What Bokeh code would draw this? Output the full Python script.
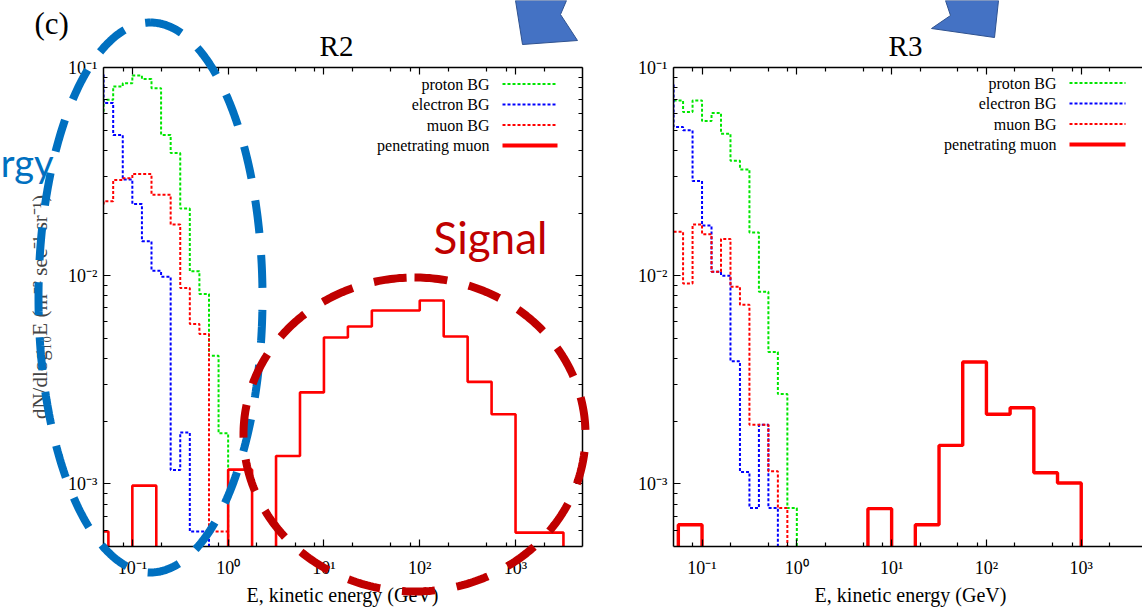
import numpy as np
from bokeh.plotting import figure
from bokeh.models import (Range1d, FixedTicker, LogAxis, CustomJSTickFormatter)
from bokeh.layouts import row, column
from bokeh.core.properties import value
from bokeh.embed import file_html
from bokeh.resources import INLINE

# ---------------- data ----------------
# background histograms: lower bin edges in log10(E/GeV), bin width 0.1 decade
bg_bin_lo_log = [-1.4, -1.3, -1.2, -1.1, -1.0, -0.9, -0.8, -0.7, -0.6, -0.5,
                 -0.4, -0.3, -0.2, -0.1, 0.0]
bg_bin_width = 0.1
# penetrating muon histograms: lower bin edges, bin width 0.25 decade
mu_bin_lo_log = [-1.5, -1.25, -1.0, -0.75, -0.5, -0.25, 0.0, 0.25, 0.5, 0.75,
                 1.0, 1.25, 1.5, 1.75, 2.0, 2.25, 2.5, 2.75, 3.0, 3.25, 3.5]
mu_bin_width = 0.25

r2_proton = [0.061, 0.070, 0.081, 0.084, 0.0916, 0.088, 0.0796, 0.0474, 0.0388,
             0.021, 0.0105, 0.00817, 0.00412, 0.00175, 0.0]
r2_electron = [0.093, 0.0676, 0.0474, 0.029, 0.0221, 0.01463, 0.01057, 0.00989,
               0.001164, 0.001766, 0.00059, 0.00059, 0.0, 0.0, 0.0]
r2_muon_bg = [0.0219, 0.0228, 0.0288, 0.0294, 0.0308, 0.0308, 0.0245, 0.0245,
              0.0176, 0.00873, 0.00586, 0.00525, 0.00059, 0.00059, 0.0]
r2_pen_muon = [0.00059, 0.0, 0.00098, 0.0, 0.0, 0.0, 0.00117, 0.0, 0.00136,
               0.00275, 0.00505, 0.0057, 0.0068, 0.0068, 0.0076, 0.0051,
               0.00309, 0.00216, 0.000583, 0.000583, 0.0]

r3_proton = [None, 0.0695, 0.0611, 0.0695, 0.0553, 0.0604, 0.0481, 0.0356,
             0.0324, 0.0161, 0.00838, 0.0043, 0.0027, 0.000765, 0.0]
r3_electron = [0.0834, 0.0518, 0.0499, 0.0285, 0.0174, 0.01045, 0.0100, 0.00388,
               0.00114, 0.000765, 0.00192, 0.000765, 0.0, 0.0, 0.0]
r3_muon_bg = [None, 0.01626, 0.00918, 0.0176, 0.0158, 0.01045, 0.0150, 0.00885,
              0.00724, 0.00192, 0.00192, 0.00115, 0.000765, 0.0, 0.0]
r3_pen_muon = [0.0, 0.000636, 0.0, 0.0, 0.0, 0.0, 0.0, 0.0, 0.0, 0.00076,
               0.0, 0.000636, 0.00153, 0.00385, 0.00216, 0.00232, 0.00113,
               0.00101, 0.0, 0.0, 0.0]

series_names = ["proton BG", "electron BG", "muon BG", "penetrating muon"]
panel_titles = ["R2", "R3"]
x_title = "E, kinetic energy (GeV)"
y_title = "dN/dlog\u2081\u2080E (m\u207b\u00b2 sec\u207b\u00b9 sr\u207b\u00b9)"
x_major_ticks = [0.1, 1, 10, 100, 1000]
x_minor_ticks = [0.08, 0.2, 0.5, 0.8, 2, 5, 8, 20, 50, 80, 200, 500, 800, 2000]
y_major_ticks = [1e-3, 1e-2, 1e-1]
y_minor_ticks = [6e-4, 7e-4, 8e-4, 9e-4, 2e-3, 3e-3, 4e-3, 5e-3, 6e-3, 7e-3,
                 8e-3, 9e-3, 2e-2, 3e-2, 4e-2, 5e-2, 6e-2, 7e-2, 8e-2, 9e-2]

# ---------------- styling ----------------
SERIF = "Liberation Serif"
GREEN, BLUE, RED = "#00e600", "#0000ff", "#ff0000"
BG_STYLES = [(GREEN, "3 2"), (BLUE, "3 2"), (RED, "3 2")]
FLOOR = 1e-7
W, H = 1142, 608

sup_fmt = CustomJSTickFormatter(code="""
const e = Math.round(Math.log10(tick));
const m = {'-':'\u207b','0':'\u2070','1':'\u00b9','2':'\u00b2','3':'\u00b3',
           '4':'\u2074','5':'\u2075','6':'\u2076','7':'\u2077','8':'\u2078','9':'\u2079'};
return '10' + String(e).split('').map(c => m[c]).join('');
""")


def steps(lo_log, width, vals):
    pairs = [(l, v) for l, v in zip(lo_log, vals) if v is not None]
    xs = [10 ** l for l, _ in pairs] + [10 ** (pairs[-1][0] + width)]
    ys = [max(v, FLOOR) for _, v in pairs]
    ys = ys + [ys[-1]]
    return xs, ys


def style_axis(ax, labels=True):
    ax.axis_line_width = 1.5
    ax.axis_line_color = "black"
    ax.major_tick_in = 7
    ax.major_tick_out = 0
    ax.minor_tick_in = 4
    ax.minor_tick_out = 0
    ax.major_tick_line_width = 1.2
    ax.minor_tick_line_width = 1.2
    ax.major_tick_line_color = "black"
    ax.minor_tick_line_color = "black"
    ax.major_label_text_font = SERIF
    ax.major_label_text_font_size = "18px"
    ax.major_label_text_color = "black"
    if not labels:
        ax.formatter = CustomJSTickFormatter(code="return '';")
        ax.major_label_standoff = 0


def make_panel(width, bl, br, bt, bb, x_end, right_axis):
    p = figure(width=width, height=H, x_axis_type="log", y_axis_type="log",
               x_range=Range1d(0.05, x_end), y_range=Range1d(5e-4, 0.1),
               output_backend="svg", toolbar_location=None,
               min_border_left=bl, min_border_right=br,
               min_border_top=bt, min_border_bottom=bb)
    p.outline_line_color = None
    p.grid.visible = False
    p.background_fill_color = "white"
    p.border_fill_color = "white"
    p.xaxis.ticker = FixedTicker(ticks=x_major_ticks, minor_ticks=x_minor_ticks)
    p.yaxis.ticker = FixedTicker(ticks=y_major_ticks, minor_ticks=y_minor_ticks)
    p.xaxis.formatter = sup_fmt
    p.yaxis.formatter = sup_fmt
    p.xaxis.major_label_standoff = 11
    p.yaxis.major_label_standoff = 6
    style_axis(p.xaxis[0])
    style_axis(p.yaxis[0])
    top = LogAxis(ticker=FixedTicker(ticks=x_major_ticks, minor_ticks=x_minor_ticks))
    style_axis(top, labels=False)
    p.add_layout(top, "above")
    if right_axis:
        rt = LogAxis(ticker=FixedTicker(ticks=y_major_ticks, minor_ticks=y_minor_ticks))
        style_axis(rt, labels=False)
        p.add_layout(rt, "right")
    return p


def add_hists(p, proton, electron, muon_bg, pen, pen_w):
    for vals, (col, dash) in zip((proton, electron, muon_bg), BG_STYLES):
        xs, ys = steps(bg_bin_lo_log, bg_bin_width, vals)
        p.step(xs, ys, mode="after", line_color=col, line_width=2, line_dash=dash)
    xs, ys = steps(mu_bin_lo_log, mu_bin_width, pen)
    p.step(xs, ys, mode="after", line_color=RED, line_width=pen_w)


# ---------------- panel R2: canvas x 0..620, frame x 103..582, y 67..546 ----------------
p1 = make_panel(620, 103, 38, 67, 62, 5000, True)
add_hists(p1, r2_proton, r2_electron, r2_muon_bg, r2_pen_muon, 2.6)
p1.yaxis[0].axis_label = y_title
p1.yaxis[0].axis_label_text_font = SERIF
p1.yaxis[0].axis_label_text_font_style = "normal"
p1.yaxis[0].axis_label_text_font_size = "21px"
p1.yaxis[0].axis_label_standoff = 13

# ---------------- panel R3: canvas x 620..1142, frame x 673..(1147), y 66..546 ----------------
p2 = make_panel(522, 53, 0, 66, 62, 4430, False)
add_hists(p2, r3_proton, r3_electron, r3_muon_bg, r3_pen_muon, 3.4)

# ---------------- transparent overlay in page-pixel coordinates ----------------
ov = figure(width=W, height=H, x_range=Range1d(0, W), y_range=Range1d(H, 0),
            output_backend="svg", toolbar_location=None,
            x_axis_location=None, y_axis_location=None,
            min_border_left=0, min_border_right=0, min_border_top=0, min_border_bottom=0)
ov.grid.visible = False
ov.outline_line_color = None
ov.background_fill_alpha = 0
ov.border_fill_alpha = 0
ov.margin = (-H, 0, 0, 0)


def ov_text(x, y, t, size, color="black", font=SERIF, align="left"):
    # y is the vertical middle of the text line
    ov.text(x=x, y=y, text=t, text_font=value(font), text_font_size=value(size),
            text_color=color, text_align=align, text_baseline="middle")


# titles, axis titles, panel tag
ov_text([336, 905], [45, 45], panel_titles, "29px", align="center")
ov_text([342, 910], [594, 594], [x_title, x_title], "20px", align="center")
ov_text([34], [23], ["(c)"], "31px")

# legends (text to the left of the line sample, as in the reference)
for text_right, s0, s1, rows in ((489, 502, 557, [83.5, 104, 124.5, 145]),
                                 (1056, 1069, 1125, [82.5, 103, 123.5, 144])):
    ov_text([text_right] * 4, rows, series_names, "16px", align="right")
    for (col, dash), yy in zip(BG_STYLES, rows[:3]):
        ov.line([s0, s1], [yy, yy], line_color=col, line_width=2, line_dash=dash)
    ov.line([s0, s1], [rows[3], rows[3]], line_color=RED, line_width=4)

# slide annotations
ov_text([53], [161], ["rgy"], "38px", color="#0070C0", font="Lato", align="right")
ov_text([433], [236], ["Signal"], "44px", color="#C00000", font="Lato")


def ellipse(cx, cy, rx, ry, color, start_deg=-90):
    t = np.radians(start_deg) + np.linspace(0, 2 * np.pi, 361)
    ov.line(cx + rx * np.cos(t), cy + ry * np.sin(t), line_color=color,
            line_width=8, line_dash="33 22")


ellipse(150, 297, 112, 275, "#0070C0")
ellipse(414, 434, 171, 157, "#C00000")

# block arrows entering from the top edge
ov.patch([515, 566, 560, 577, 522], [0, 0, 14, 40, 44],
         fill_color="#4472C4", line_color="#2F528F", line_width=1)
ov.patch([945, 998, 994, 931, 950], [0, 0, 37, 28, 15],
         fill_color="#4472C4", line_color="#2F528F", line_width=1)

layout = column(row(p1, p2), ov)
open("out.html", "w").write(file_html(layout, INLINE))
